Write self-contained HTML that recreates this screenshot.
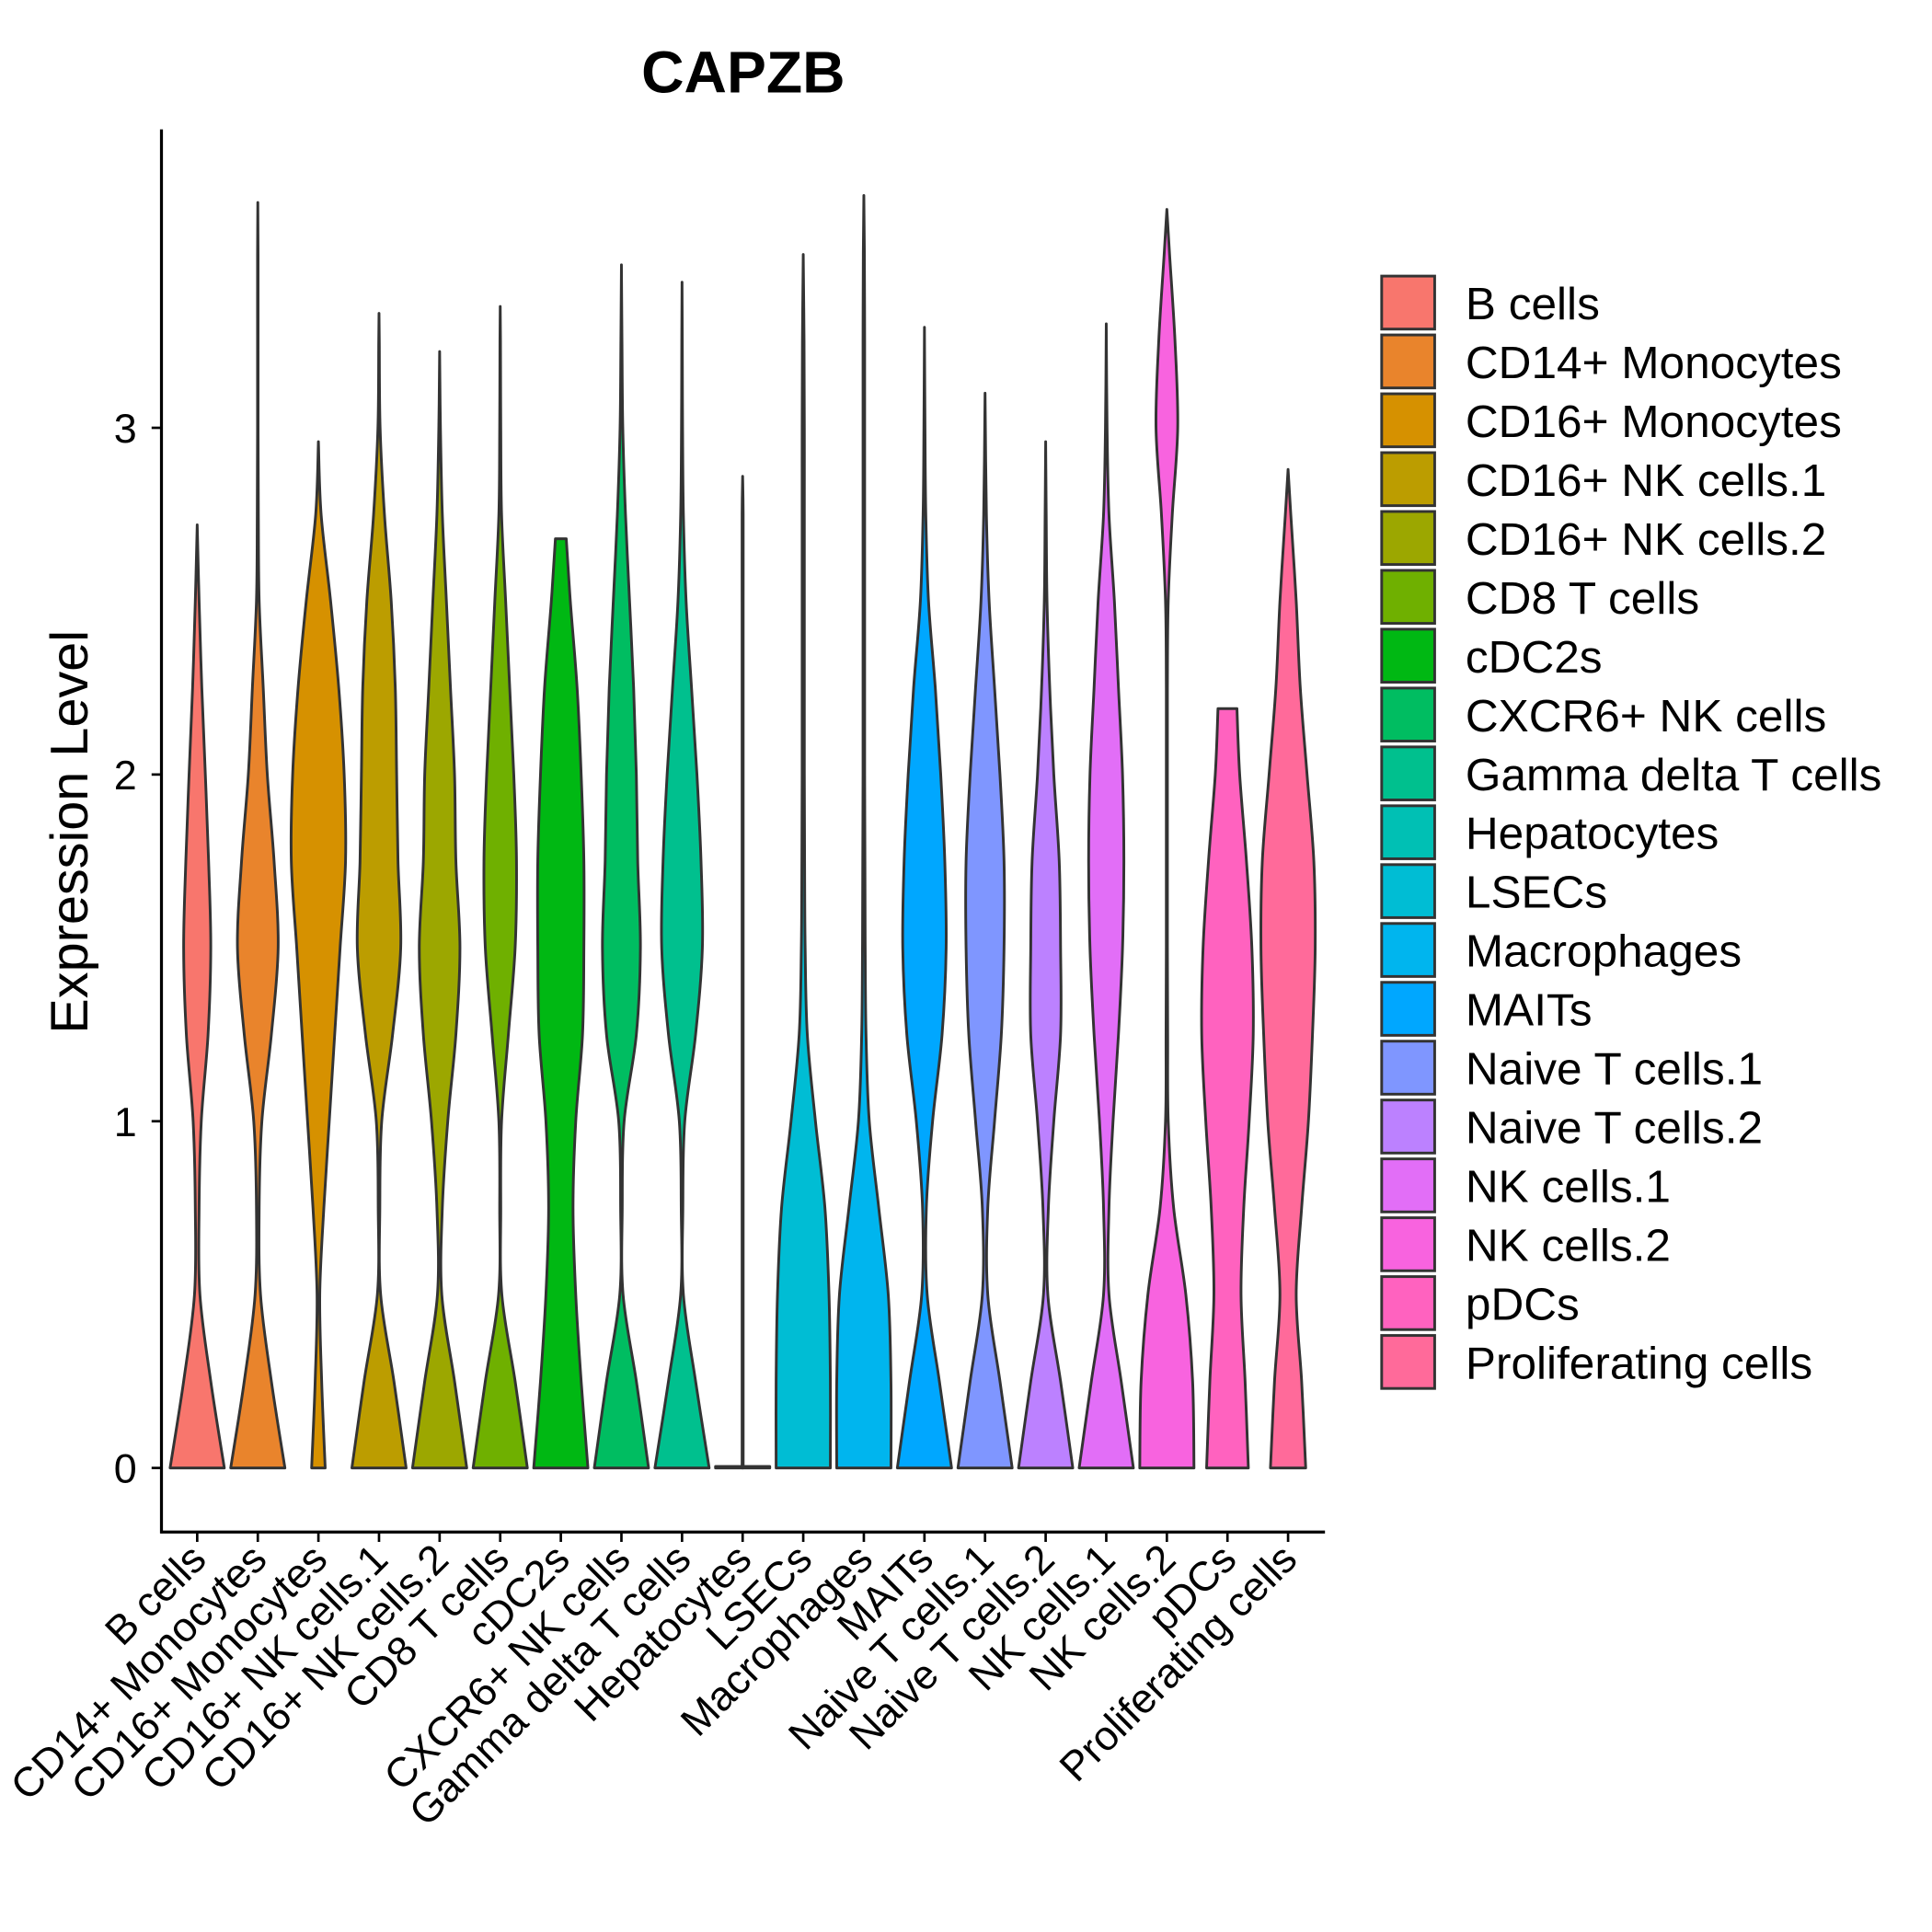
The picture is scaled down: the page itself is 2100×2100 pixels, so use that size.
<!DOCTYPE html>
<html><head><meta charset="utf-8"><style>html,body{margin:0;padding:0;background:#fff}svg{display:block}</style></head>
<body>
<svg id="chart" width="2100" height="2100" viewBox="0 0 1567.5 1567.5" xmlns="http://www.w3.org/2000/svg" font-family="'Liberation Sans', Arial, sans-serif">
<rect x="0" y="0" width="1567.5" height="1567.5" fill="#fff"/>
<text x="603" y="75" font-size="48" font-weight="bold" text-anchor="middle">CAPZB</text>
<text transform="translate(71,675) rotate(-90)" font-size="43" text-anchor="middle">Expression Level</text>
<g id="plot"></g>
<g id="legend"></g>
</svg>
<script>
const categories = ["B cells","CD14+ Monocytes","CD16+ Monocytes","CD16+ NK cells.1","CD16+ NK cells.2","CD8 T cells","cDC2s","CXCR6+ NK cells","Gamma delta T cells","Hepatocytes","LSECs","Macrophages","MAITs","Naive T cells.1","Naive T cells.2","NK cells.1","NK cells.2","pDCs","Proliferating cells"];
const colors = ["#F8766D","#E9842C","#D69100","#BC9D00","#9CA700","#6FB000","#00B813","#00BD61","#00C08E","#00C0B4","#00BDD4","#00B5EE","#00A7FF","#7F96FF","#BC81FF","#E26EF7","#F863DF","#FF62BF","#FF6A9A"];
const maxValues = [2.72,3.65,2.96,3.33,3.22,3.35,2.68,3.47,3.42,2.86,3.5,3.67,3.29,3.1,2.96,3.3,3.63,2.19,2.88];
const topWidths = [0,0,0,0,0,0,0.2,0,0,0,0,0,0,0,0,0,0,0.35,0];
const baseLineWidths = [0,0,0,0,0,0,0,0,0,1,0,0,0,0,0,0,0,0,0];
const densities = [
 [1,.5,.1,.07,.15,.4,.5,.42,.3,.17,.07],
 [1,.5,.1,.05,.15,.5,.75,.6,.35,.2,.05,.02,.01,.01,.01],
 [.25,.12,.05,.2,.4,.6,.8,1,.95,.75,.45,.1],
 [1,.55,.06,.03,.1,.5,.8,.7,.65,.6,.45,.2,.04,.01],
 [1,.55,.08,.1,.3,.6,.75,.6,.55,.4,.25,.1,.03],
 [1,.55,.06,.02,.05,.3,.55,.6,.5,.35,.2,.05,.02,.01],
 [1,.75,.55,.45,.55,.8,.85,.85,.75,.6,.35],
 [1,.55,.06,.03,.1,.55,.7,.6,.55,.45,.3,.15,.05,.02],
 [1,.5,.05,.03,.1,.5,.75,.7,.55,.35,.15,.05,.02,.01],
 [.02,.02,.02,.02,.02,.02,.02,.02,.02,.02,.02,.02],
 [1,1,.95,.8,.45,.15,.07,.05,.04,.04,.04,.04,.04,.03],
 [1,1,.9,.55,.2,.08,.05,.04,.03,.03,.03,.03,.03,.03,.02],
 [1,.55,.1,.07,.3,.65,.8,.75,.6,.4,.15,.05,.02],
 [1,.55,.1,.1,.35,.6,.7,.7,.55,.35,.15,.05],
 [1,.55,.08,.1,.3,.55,.55,.5,.3,.15,.05,.02],
 [1,.55,.1,.1,.25,.45,.6,.65,.6,.45,.3,.1,.03],
 [1,.95,.7,.25,.05,.03,.02,.02,.02,.02,.05,.2,.4,.3,.1],
 [.77,.65,.5,.6,.8,.95,.9,.7,.45],
 [.65,.5,.3,.5,.75,.9,1,.95,.7,.45,.3,.1]
];
const densityStep = 0.25;
const yTicks = [0,1,2,3];

const NS = "http://www.w3.org/2000/svg";
const plot = document.getElementById('plot');
const legend = document.getElementById('legend');
const axL = 131, axR = 1075, axB = 1243, axT = 105;
function yScale(v){ return 1191 - v*281.3; }
function xScale(i){ return 160 + i*49.17; }
const maxHalf = 22;
function mk(tag, attrs){ const e=document.createElementNS(NS,tag); for(const k in attrs) e.setAttribute(k,attrs[k]); return e; }
function crPath(P){
  let s = "";
  for(let k=0;k<P.length-1;k++){
    const p0=P[Math.max(k-1,0)],p1=P[k],p2=P[k+1],p3=P[Math.min(k+2,P.length-1)];
    const c1=[p1[0]+(p2[0]-p0[0])/6,p1[1]+(p2[1]-p0[1])/6];
    const c2=[p2[0]-(p3[0]-p1[0])/6,p2[1]-(p3[1]-p1[1])/6];
    s+=` C${c1[0].toFixed(2)},${c1[1].toFixed(2)} ${c2[0].toFixed(2)},${c2[1].toFixed(2)} ${p2[0].toFixed(2)},${p2[1].toFixed(2)}`;
  }
  return s;
}

categories.forEach((c,i)=>{
  const cx = xScale(i), mx = maxValues[i], d = densities[i];
  const pts = [];
  for(let k=0;k<d.length;k++){ const v=k*densityStep; if(v>=mx) break; pts.push([v,d[k]]); }
  pts.push([mx, topWidths[i]]);
  const right = pts.map(p=>[cx+p[1]*maxHalf, yScale(p[0])]);
  const left = right.map(p=>[2*cx-p[0],p[1]]).reverse();
  let dstr = `M${left[left.length-1][0]},${left[left.length-1][1]} L${right[0][0]},${right[0][1]}` + crPath(right);
  dstr += ` L${left[0][0]},${left[0][1]}` + crPath(left) + " Z";
  const path = mk('path',{d:dstr, fill:colors[i], stroke:'#333', 'stroke-width':2.2, 'stroke-linejoin':'round'});
  
  
  plot.appendChild(path);
  if(baseLineWidths[i] > 0){
    const bw = baseLineWidths[i]*maxHalf;
    const bl = mk('path',{d:`M${cx-bw},${yScale(0)} L${cx+bw},${yScale(0)} L${cx+bw},${yScale(0)-1.2} L${cx-bw},${yScale(0)-1.2} Z`, fill:colors[i], stroke:'#333','stroke-width':2.2,'stroke-linejoin':'round'});
    
    
    plot.appendChild(bl);
  }
  const t = mk('line',{x1:cx,x2:cx,y1:axB,y2:axB+8,stroke:'#000','stroke-width':2});
  
  
  plot.appendChild(t);
  const lbl = mk('text',{transform:`translate(${cx+9},${axB+24}) rotate(-45)`,'font-size':33.5,'text-anchor':'end'});
  lbl.textContent = c;
  
  
  plot.appendChild(lbl);
  const ly = 224 + i*47.75;
  const key = mk('rect',{x:1121,y:ly,width:43,height:43,fill:colors[i],stroke:'#333','stroke-width':2.2});
  
  
  legend.appendChild(key);
  const lt = mk('text',{x:1189,y:ly+35,'font-size':37});
  lt.textContent = c;
  
  
  legend.appendChild(lt);
});
yTicks.forEach(v=>{
  const y=yScale(v);
  const t = mk('line',{x1:axL-8,x2:axL,y1:y,y2:y,stroke:'#000','stroke-width':2});
  
  
  plot.appendChild(t);
  const l = mk('text',{x:axL-20,y:y+12,'font-size':33.5,'text-anchor':'end'});
  l.textContent = v;
  
  
  plot.appendChild(l);
});
const ya = mk('line',{x1:axL,x2:axL,y1:axT,y2:axB+1,stroke:'#000','stroke-width':2.4});


plot.appendChild(ya);
const xa = mk('line',{x1:axL-1,x2:axR,y1:axB,y2:axB,stroke:'#000','stroke-width':2.4});


plot.appendChild(xa);
</script>
</body></html>
